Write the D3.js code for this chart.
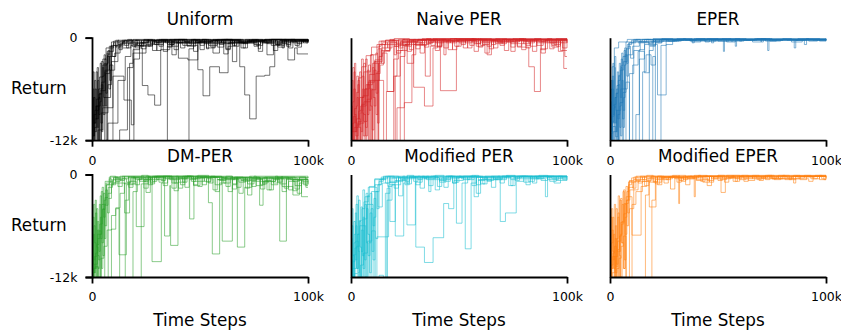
<!DOCTYPE html>
<html>
<head>
<meta charset="utf-8">
<script src="https://cdn.jsdelivr.net/npm/d3@7"></script>
<style>
  body { margin: 0; background: #fff; }
  text { font-family: "DejaVu Sans", sans-serif; fill: #000; }
</style>
</head>
<body>
<div id="chart"></div>
<script>
// runs: flat arrays [step(k), return(k), step(k), return(k), ...], held until next step
const uniformRuns = [
  [0,-14, 1.5,-9.5, 3,-6, 5,-3.2, 7,-1.6, 10,-0.9, 14,-0.5, 20,-1.2, 23.3,-5.6, 25.9,-6.7, 29,-7.9, 31.8,-1.4, 36,-0.6, 45,-0.3, 58,-1.1, 61,-0.4, 75,-0.8, 78,-0.3, 88,-0.6, 92,-0.3, 100,-0.3],
  [0,-14, 2.8,-10.8, 5,-8.2, 9.7,-4.5, 14.8,-7.3, 18.2,-10.2, 19.4,-2.5, 22,-1.0, 27,-0.4, 38,-1.4, 40,-0.3, 52,-0.7, 64,-0.2, 70,-1.2, 72,-0.4, 86,-0.9, 89,-0.2, 100,-0.4],
  [0,-14, 34.9,-1.0, 37,-0.4, 47,-1.6, 49,-0.5, 60,-0.3, 66,-1.0, 68,-0.4, 80,-0.2, 91,-1.2, 93,-0.4, 100,-0.5],
  [0,-14, 44.9,-1.3, 47,-0.6, 55,-0.3, 62,-1.4, 64,-0.5, 74,-0.3, 84,-1.5, 86,-0.4, 100,-0.3],
  [0,-14, 4.3,-8.8, 7.4,-5.5, 9,-2.8, 12,-1.2, 17,-0.6, 26,-0.3, 33,-1.6, 35,-0.5, 42,-0.9, 49,-3.75, 51.4,-6.8, 54.5,-3.4, 59,-4.1, 63,-1.0, 66,-0.4, 78,-0.6, 88,-0.3, 100,-0.6],
  [0,-14, 5.9,-7.0, 8.6,-3.8, 10.5,-1.8, 13,-0.7, 24,-0.4, 30,-1.5, 32,-0.4, 40,-2.4, 44.4,-2.6, 49,-0.5, 57,-0.3, 68.4,-3.4, 70.7,-6.7, 73,-9.5, 76,-4.5, 80,-4.4, 82.3,-3.4, 84.6,-0.8, 88,-0.4, 100,-0.4],
  [0,-14, 7.4,-10, 12,-5, 15.4,-2.2, 18,-0.9, 28,-0.5, 36,-0.2, 44,-1.0, 48,-0.4, 56,-1.8, 59,-0.6, 72,-0.4, 81,-2.0, 84,-0.7, 90.7,-2.6, 93.8,-1.2, 95,-1.9, 100,-1.9],
  [0,-14, 12.8,-10.8, 16.4,-3.5, 19,-1.4, 22,-0.6, 31,-0.3, 37,-2.0, 39,-0.6, 50,-0.4, 56,-0.2, 65,-2.8, 67,-0.6, 77,-1.6, 79,-0.5, 95,-1.1, 97,-0.4, 100,-0.2],
  [0,-14, 17.4,-3.0, 19,-1.8, 25,-0.8, 33,-0.3, 43,-0.5, 53,-1.2, 57,-0.4, 61,-1.9, 63,-0.6, 75,-0.3, 83,-0.9, 87,-0.3, 100,-0.2],
  [0,-11.5, 1,-9, 2,-7.2, 3.5,-4.6, 5,-2.5, 6.5,-1.2, 9,-0.5, 15,-0.3, 21,-0.9, 23,-0.3, 34,-0.6, 46,-0.2, 54,-0.9, 58,-0.2, 69,-0.6, 76,-0.2, 90,-0.8, 92,-0.2, 100,-0.3],
  [0,-12.5, 1.2,-10.5, 2.2,-8.5, 3.2,-6.6, 4.5,-5.2, 6,-3.8, 8,-2.2, 11,-1.0, 14.4,-0.4, 19,-0.2, 29,-0.8, 31,-0.2, 42,-0.4, 51,-0.2, 64,-0.6, 71,-0.2, 79,-0.6, 83,-0.2, 98,-0.6, 100,-0.3],
  [0,-10, 1.8,-8, 3.8,-6.2, 6.2,-4.2, 8.2,-3.2, 9.7,-14, 18.2,-12.5, 19.4,-1.0, 24,-0.3, 35,-0.8, 38,-0.2, 48,-0.6, 60,-0.2, 73,-0.5, 85,-0.2, 94,-0.4, 100,-0.2],
  [0,-12, 0.5,-4, 1,-10, 1.5,-6, 2,-13, 2.6,-5, 3.2,-9, 3.8,-3, 4.4,-11, 5,-4.5, 5.6,-2, 6.2,-8, 6.8,-3, 7.5,-1.5, 8.2,-5, 9,-1.2, 10,-0.6, 11,-1.1, 13,-0.4, 15,-0.9, 17,-0.3, 19,-0.8, 21,-0.5, 23,-1.3, 25,-0.4, 27,-0.7, 29,-0.3, 31,-1.0, 33,-0.5, 36,-0.8, 38,-0.3, 41,-1.2, 43,-0.4, 45,-0.7, 48,-0.3, 50,-0.9, 52,-0.4, 55,-1.1, 57,-0.3, 60,-0.6, 62,-0.2, 65,-0.9, 67,-0.4, 70,-0.7, 72,-0.3, 75,-1.0, 77,-0.4, 80,-0.6, 82,-0.2, 85,-0.8, 87,-0.3, 90,-1.0, 92,-0.4, 95,-0.7, 97,-0.3, 100,-0.5],
  [0,-9, 0.4,-13, 0.9,-7, 1.4,-11, 2.1,-8, 2.8,-12, 3.5,-6.5, 4.1,-10, 4.8,-3.5, 5.4,-7, 6,-2.5, 6.6,-12, 7.2,-2, 8,-1.0, 10,-0.4, 12,-0.8, 14,-0.3, 16,-1.2, 18,-0.5, 20,-0.3, 22,-0.9, 24,-0.2, 26,-1.0, 28,-0.4, 30,-0.6, 32,-0.2, 35,-1.1, 37,-0.3, 39,-0.6, 42,-0.2, 44,-0.9, 46,-0.3, 49,-0.6, 51,-0.2, 53,-1.3, 54,-0.5, 56,-0.3, 59,-0.8, 61,-0.2, 63,-0.7, 66,-0.3, 69,-1.2, 71,-0.4, 74,-0.2, 76,-0.9, 79,-0.3, 81,-0.7, 84,-0.3, 86,-1.1, 89,-0.4, 91,-0.2, 94,-0.9, 96,-0.3, 99,-0.6, 100,-0.6],
  [0,-7, 0.7,-11.5, 1.2,-5, 1.8,-9.5, 2.4,-3.5, 3,-12.5, 3.6,-7.5, 4.3,-2.8, 5.2,-9, 6,-4, 7,-1.8, 7.8,-6, 8.6,-1.0, 9.5,-2.2, 11,-0.3, 12.5,-1.4, 14,-0.6, 16.5,-0.2, 18.5,-1.0, 20.5,-0.3, 23,-0.6, 26,-0.2, 28,-1.5, 30,-0.5, 34,-0.3, 37,-1.0, 40,-0.2, 43,-0.6, 47,-0.2, 50,-1.4, 52,-0.3, 58,-0.5, 62,-1.3, 64,-0.3, 68,-0.6, 73,-0.2, 77,-1.3, 78,-0.4, 83,-0.2, 88,-1.2, 89,-0.3, 93,-0.6, 98,-0.2, 100,-0.3],
  [0,-10.5, 0.3,-6, 0.8,-12.5, 1.3,-8.5, 1.9,-4, 2.5,-10.5, 3.1,-7, 3.7,-12, 4.3,-5.5, 5,-8, 5.7,-3, 6.4,-6.5, 7.1,-2.2, 8,-3.8, 9,-0.9, 12,-0.3, 30,-0.2, 55,-0.3, 80,-0.2, 100,-0.2]
];

const naivePerRuns = [
  [0,-14, 1,-11, 2.5,-9.5, 4,-7, 6,-4, 9,-2, 12,-0.8, 16,-0.3, 22,-1.2, 24,-0.2, 33,-0.9, 35,-0.2, 44,-0.6, 46,-0.1, 57,-1.6, 59,-0.3, 68,-0.5, 75,-0.1, 88,-1.8, 90,-0.3, 100,-0.2],
  [0,-14, 2,-12.5, 4.5,-8, 7,-5.5, 10,-3.0, 12.8,-14, 16.4,-6.3, 19.8,-4.5, 21.3,-1.5, 24,-0.5, 31,-0.2, 40,-1.1, 42,-0.3, 52,-0.2, 63,-2.0, 65,-0.4, 78,-0.2, 92,-1.3, 94,-0.3, 100,-0.4],
  [0,-14, 3,-10, 6,-7.5, 9,-5, 15.1,-14, 21.3,-8.2, 24.7,-7.6, 28.2,-2.0, 30,-0.6, 38,-0.3, 47,-1.4, 49,-0.3, 61,-0.8, 64,-0.2, 71,-1.5, 73,-0.3, 86,-0.6, 100,-0.3],
  [0,-14, 1.5,-10.5, 3.5,-8.6, 5.5,-6.8, 8,-5.2, 11,-2.6, 14,-1.5, 18,-0.6, 29,-5.8, 34,-8.0, 37.96,-1.2, 40,-0.3, 50,-0.6, 53,-0.2, 60,-0.9, 62,-0.2, 74,-0.7, 80,-0.2, 95,-1.0, 97,-0.2, 100,-0.3],
  [0,-14, 19.8,-2.5, 22,-0.9, 26,-3.0, 29,-0.8, 36,-0.3, 41.4,-6.2, 48.8,-1.0, 51,-0.3, 58,-0.2, 66,-1.2, 68,-0.3, 79,-1.4, 81,-0.4, 90,-0.2, 100,-0.2],
  [0,-14, 20.5,-4.5, 22.8,-2.2, 25,-0.8, 34.4,-4.5, 36.7,-1.0, 42,-0.4, 55,-0.2, 69,-0.5, 77,-1.1, 82.3,-3.4, 84.9,-6.3, 87.7,-1.3, 91,-0.5, 98.5,-3.6, 100,-3.6],
  [0,-14, 22.8,-1.5, 26,-0.4, 32,-1.8, 34,-0.4, 45,-0.2, 54,-1.2, 56,-0.3, 67,-0.7, 70,-0.2, 83,-1.0, 86,-0.2, 96,-1.6, 98,-0.4, 100,-0.4],
  [0,-14, 24.7,-1.0, 28,-0.3, 39,-1.5, 41,-0.2, 51,-0.8, 53,-0.2, 62,-1.8, 64,-0.4, 73,-0.2, 84,-1.6, 86,-0.3, 99,-2.2, 100,-2.2],
  [0,-12, 0.8,-10, 1.6,-8.3, 2.6,-6.4, 3.6,-4.7, 5,-3.4, 7,-2.1, 9.5,-1.1, 13,-0.4, 20,-0.1, 27,-1.4, 29,-0.2, 37,-0.5, 48,-0.1, 58,-0.7, 60,-0.1, 72,-0.4, 85,-0.1, 93,-0.9, 95,-0.1, 100,-0.1],
  [0,-11, 1.2,-9.2, 2.2,-11.5, 3.3,-9.8, 5,-7.8, 6.5,-6, 8.5,-4.3, 11,-2.8, 14.5,-1.8, 16.7,-6.3, 19.8,-1.0, 23,-0.4, 30,-0.9, 33,-0.2, 43,-1.2, 45,-0.3, 56,-0.5, 70,-0.2, 81,-0.9, 83,-0.2, 100,-0.2],
  [0,-13, 1.4,-12, 2.8,-10.2, 4.2,-8.8, 5.8,-9.8, 7.5,-7.2, 9.5,-6.1, 11.5,-4.2, 13.5,-3.2, 15,-1.6, 18,-0.8, 26,-0.2, 36,-0.6, 38,-0.1, 49,-0.4, 59,-0.1, 65,-0.8, 67,-0.1, 80,-0.4, 91,-0.1, 100,-0.1],
  [0,-14, 12.8,-3.0, 14,-1.2, 17,-0.5, 21,-1.8, 23,-0.5, 31,-0.3, 43,-2.0, 44,-0.4, 53,-0.3, 58,-1.0, 61,-0.3, 74,-1.6, 76,-0.3, 88,-0.4, 97,-1.5, 100,-1.5],
  [0,-13, 0.5,-5, 1,-12, 1.6,-3, 2.2,-10, 2.8,-7, 3.4,-13, 4,-4, 4.7,-11, 5.4,-6, 6.1,-12.5, 6.8,-2.5, 7.5,-9, 8.3,-5, 9.1,-13, 9.9,-3.5, 10.7,-8, 11.5,-1.8, 12.3,-10, 13,-1.0, 14,-0.4, 16,-1.5, 18,-0.3, 20,-1.0, 22,-0.2, 25,-0.8, 27,-0.2, 30,-1.3, 32,-0.3, 35,-0.7, 37,-0.2, 40,-1.0, 42,-0.2, 46,-0.6, 49,-0.2, 52,-1.2, 54,-0.3, 57,-0.7, 60,-0.2, 63,-1.0, 65,-0.3, 68,-0.6, 71,-0.2, 74,-1.1, 76,-0.3, 80,-0.7, 83,-0.2, 86,-0.9, 89,-0.3, 92,-0.6, 95,-0.2, 98,-1.2, 100,-0.4],
  [0,-8, 0.6,-12.5, 1.3,-6, 2,-11, 2.7,-4.5, 3.5,-9.5, 4.3,-12, 5.1,-7, 5.9,-3, 6.7,-10.5, 7.6,-5.5, 8.5,-12, 9.4,-2, 10.3,-7, 11.2,-13, 12.1,-4, 13,-2.2, 14.5,-0.6, 17,-1.2, 19,-0.3, 21,-0.7, 24,-0.2, 26,-1.6, 28,-0.4, 31,-0.2, 34,-1.1, 36,-0.3, 39,-0.6, 43,-0.2, 45,-1.4, 47,-0.4, 50,-0.2, 55,-0.9, 57,-0.2, 61,-0.5, 64,-1.3, 66,-0.3, 70,-0.7, 72,-0.2, 77,-1.0, 79,-0.3, 82,-0.6, 85,-0.2, 88,-1.4, 90,-0.3, 94,-0.8, 97,-0.2, 100,-0.6],
  [0,-11, 0.8,-3.5, 1.5,-9, 2.4,-13, 3.2,-5, 4,-8.5, 4.9,-2.5, 5.7,-11.5, 6.5,-6, 7.3,-13, 8.1,-3.2, 9,-8, 9.8,-10.8, 10.6,-3.8, 11.6,-6.5, 12.5,-1.3, 14,-3.0, 15.5,-0.8, 18,-0.2, 20,-2.0, 21,-0.4, 24,-0.9, 27,-0.3, 29,-0.6, 33,-0.1, 37,-0.9, 39,-0.2, 44,-0.4, 48,-1.0, 50,-0.2, 53,-0.6, 56,-0.1, 59,-1.1, 61,-0.3, 66,-0.2, 69,-0.9, 71,-0.2, 75,-0.5, 78,-0.1, 81,-1.2, 83,-0.3, 87,-0.5, 91,-0.2, 93,-1.1, 96,-0.3, 100,-0.2],
  [0,-10, 0.4,-13, 0.9,-7.5, 1.4,-4, 1.9,-12, 2.5,-8, 3.1,-5.5, 3.8,-10.5, 4.5,-13, 5.2,-4.5, 6,-9, 6.8,-11.5, 7.6,-3.8, 8.4,-8.5, 9.2,-6, 10,-12, 10.8,-2.8, 11.6,-9, 12.4,-5, 13.2,-0.8, 16,-0.3, 35,-0.1, 60,-0.2, 100,-0.1]
];

const eperRuns = [
  [0,-14, 1,-3.4, 2,-1.2, 4,-0.5, 8,-0.2, 20,-0.4, 30,-0.2, 52.5,-1.6, 53,-0.3, 65,-0.2, 85.3,-1.2, 86,-0.3, 100,-0.2],
  [0,-14, 1.5,-11, 3,-8.5, 5,-6, 7.4,-14, 9,-4.2, 11,-1.5, 14,-0.5, 18,-0.9, 21,-0.2, 37,-0.4, 55,-0.2, 73,-1.5, 73.6,-0.3, 100,-0.2],
  [0,-14, 10.5,-3.2, 13,-1.6, 15.9,-4.1, 18.2,-1.0, 21,-0.3, 44,-0.5, 46,-0.2, 60,-0.4, 62,-0.2, 100,-0.3],
  [0,-14, 12,-9, 13.6,-2.5, 16,-0.8, 22,-6.7, 26,-0.8, 29,-0.3, 40,-0.2, 58,-1.0, 58.6,-0.3, 80,-0.2, 100,-0.2],
  [0,-14, 15.1,-4.0, 16.7,-2.0, 19,-3.2, 21,-0.6, 24,-0.2, 47,-0.6, 48,-0.2, 100,-0.2],
  [0,-14, 18.2,-1.5, 20,-0.4, 33,-0.2, 70,-0.5, 71,-0.2, 100,-0.3],
  [0,-14, 19.8,-2.2, 21,-14, 23.6,-0.9, 26,-0.3, 100,-0.3],
  [0,-13, 0.6,-11.2, 1.2,-9.8, 1.8,-8.2, 2.4,-7, 3.2,-5.6, 4,-4.4, 5,-3.3, 6,-2.2, 7.5,-1.3, 9,-0.6, 12,-0.2, 30,-0.3, 90,-0.8, 91,-0.2, 100,-0.2],
  [0,-10.8, 0.9,-9.2, 1.9,-7.8, 2.8,-6.5, 3.8,-5, 4.8,-3.8, 6.2,-2.8, 8,-2, 10.5,-1.0, 13.6,-0.4, 25,-0.2, 38,-0.6, 39,-0.1, 100,-0.1],
  [0,-12.2, 1.3,-10.4, 2.6,-11.6, 3.6,-9, 4.6,-7.6, 6,-6.4, 7.4,-5.2, 9,-14, 13.6,-1.4, 16,-0.6, 20,-0.2, 100,-0.2],
  [0,-12, 0.4,-5, 0.8,-10, 1.3,-3, 1.8,-12.5, 2.3,-7, 2.8,-11, 3.4,-4, 4,-13, 4.6,-8, 5.2,-2.5, 5.8,-9.5, 6.5,-1.5, 7.2,-6, 8,-0.8, 10,-0.3, 13,-0.6, 16,-0.2, 19,-0.5, 23,-0.2, 27,-0.4, 31,-0.1, 35,-0.3, 40,-0.1, 44,-0.4, 49,-0.2, 54,-0.5, 58,-0.1, 63,-0.3, 68,-0.1, 72,-0.4, 77,-0.2, 82,-0.3, 87,-0.1, 92,-0.4, 96,-0.2, 100,-0.2],
  [0,-9, 0.5,-13, 1,-6, 1.6,-10, 2.1,-2.2, 2.7,-8.5, 3.3,-12, 3.9,-5.5, 4.5,-10.5, 5.1,-3.5, 5.7,-13, 6.3,-7, 7,-2, 7.8,-4.5, 8.6,-0.6, 11,-0.2, 14,-0.5, 17,-0.2, 21,-0.6, 24,-0.1, 29,-0.3, 34,-0.1, 38,-0.5, 42,-0.2, 47,-0.3, 52,-0.1, 56,-0.4, 61,-0.2, 66,-0.5, 70,-0.1, 75,-0.3, 80,-0.1, 84,-0.5, 89,-0.2, 94,-0.3, 100,-0.1],
  [0,-6, 0.6,-11, 1.1,-4.5, 1.7,-8, 2.3,-13, 3,-6, 3.6,-9.5, 4.3,-3, 4.9,-11.5, 5.5,-5, 6.1,-8.5, 6.8,-1.2, 7.6,-3, 8.4,-1.0, 9.5,-2.4, 11,-0.4, 15,-0.2, 18,-0.7, 20,-0.2, 26,-0.4, 32,-0.2, 37,-0.3, 45,-0.1, 50,-0.4, 57,-0.2, 62,-0.3, 67,-0.1, 74,-0.4, 79,-0.2, 86,-0.3, 91,-0.1, 97,-0.4, 100,-0.2],
  [0,-11, 0.3,-7.5, 0.7,-13, 1.1,-5, 1.5,-9, 2,-3.5, 2.5,-10, 3,-6.5, 3.6,-12, 4.2,-4.5, 4.8,-7, 5.4,-1.8, 6,-10.5, 6.7,-3.2, 7.4,-0.5, 20,-0.1, 60,-0.2, 100,-0.1]
];

const dmPerRuns = [
  [0,-14, 1,-10.5, 2.5,-7, 4.5,-3.5, 6.6,-1.2, 10,-0.4, 12.5,-9.4, 15.9,-1.2, 19,-0.3, 27,-0.9, 29,-0.2, 40,-1.6, 42,-0.4, 55,-0.3, 60.3,-7.8, 64.97,-1.2, 67,-0.4, 78,-1.2, 80,-0.3, 91,-1.8, 93,-0.6, 100,-1.0],
  [0,-14, 5.9,-14, 7.5,-2.8, 9,-1.0, 15.1,-4.5, 17.4,-0.8, 20.5,-6.1, 24.1,-0.6, 27.8,-10.2, 32.1,-1.0, 35,-0.3, 45.2,-5.2, 47.2,-0.8, 52,-0.3, 67.3,-8.5, 70.7,-1.5, 74,-0.5, 86.9,-7.8, 90,-1.4, 93,-2.4, 96,-1.0, 100,-1.2],
  [0,-14, 22.8,-1.1, 26,-0.3, 33.6,-7.2, 36,-1.3, 36.4,-8.3, 39.8,-0.9, 43,-0.3, 53.9,-3.3, 55.7,-9.3, 59.1,-1.0, 62,-0.3, 77.6,-3.6, 79.2,-0.8, 85,-0.4, 95,-2.2, 97,-0.8, 100,-0.9],
  [0,-14, 18.98,-2.0, 21,-0.6, 31,-0.3, 38,-1.9, 40,-0.5, 50,-0.3, 62,-1.4, 64,-0.4, 72,-2.4, 74,-0.8, 82,-0.4, 88,-2.0, 90,-0.6, 97,-2.6, 100,-2.6],
  [0,-13, 0.8,-11, 1.6,-9.2, 2.6,-7.5, 3.6,-5.8, 4.8,-4.1, 6,-2.7, 7.5,-1.5, 9.5,-0.6, 14,-0.2, 24,-0.8, 26,-0.2, 34,-0.5, 44,-0.2, 49,-1.4, 51,-0.3, 58,-0.6, 66,-0.3, 71,-1.6, 73,-0.4, 84,-1.0, 86,-0.3, 99,-1.3, 100,-1.3],
  [0,-11.5, 1.2,-9.6, 2.2,-8.2, 3.2,-6.6, 4.2,-14, 5.9,-3.6, 7.4,-2.2, 9,-1.2, 11,-0.5, 17,-0.2, 30,-0.6, 33,-0.2, 46,-0.8, 48,-0.2, 57,-2.0, 59,-0.5, 69,-0.7, 76,-0.3, 81,-1.8, 83,-0.5, 92,-0.6, 100,-0.5],
  [0,-12.5, 1.4,-10.8, 3,-12, 4.2,-9.8, 5.5,-8.4, 7,-6.5, 9,-4.8, 11,-3.9, 13,-2.2, 15,-1.0, 18,-0.4, 28,-0.2, 37,-1.0, 39,-0.2, 53,-0.9, 55,-0.2, 65,-1.7, 67,-0.4, 75,-0.2, 86,-0.9, 88,-0.2, 100,-0.4],
  [0,-14, 9,-6.4, 11,-4.0, 12.8,-14, 15.4,-3.0, 17,-1.1, 20,-0.4, 25,-2.1, 27,-0.4, 42,-0.2, 47,-1.2, 49,-0.3, 61,-0.5, 68,-2.2, 70,-0.6, 79,-1.1, 81,-0.3, 94,-1.7, 96,-0.4, 100,-0.4],
  [0,-12.5, 0.5,-5, 1,-10, 1.5,-3, 2,-12, 2.6,-6.5, 3.2,-9, 3.8,-2.5, 4.4,-11, 5,-4, 5.7,-7.5, 6.4,-1.8, 7.2,-4.5, 8,-0.8, 10,-0.3, 12,-1.4, 14,-0.5, 16,-0.9, 18,-0.3, 20,-1.2, 22,-0.5, 24,-1.6, 26,-0.4, 28,-0.8, 30,-0.2, 33,-1.3, 35,-0.5, 38,-1.0, 40,-0.3, 43,-1.5, 45,-0.6, 48,-0.3, 51,-1.2, 53,-0.5, 56,-1.8, 58,-0.6, 61,-1.0, 64,-0.4, 67,-1.5, 69,-0.6, 72,-1.1, 75,-0.4, 78,-1.7, 80,-0.7, 83,-1.2, 86,-0.5, 89,-1.6, 91,-0.8, 94,-1.3, 97,-0.6, 100,-1.1],
  [0,-8.5, 0.4,-12, 0.9,-6, 1.5,-11, 2.1,-4, 2.7,-9.5, 3.3,-12.5, 3.9,-5, 4.6,-8, 5.3,-2.2, 6,-6, 6.8,-1.2, 8,-0.5, 9,-1.0, 11,-0.3, 13,-0.7, 15,-0.2, 17,-1.5, 19,-0.4, 22,-0.8, 25,-0.2, 27,-1.1, 29,-0.3, 32,-0.7, 34,-0.2, 37,-1.6, 39,-0.4, 42,-0.9, 44,-0.2, 47,-1.3, 50,-0.4, 52,-0.8, 55,-0.3, 57,-1.2, 60,-0.4, 63,-2.0, 65,-0.6, 68,-0.9, 71,-0.3, 74,-1.4, 76,-0.5, 79,-0.9, 82,-1.8, 84,-0.6, 87,-1.1, 90,-0.4, 93,-1.9, 95,-0.7, 98,-1.2, 100,-1.2],
  [0,-10.5, 0.7,-3.5, 1.3,-8, 1.9,-13, 2.5,-5.5, 3.1,-10, 3.7,-7, 4.3,-2, 5,-9.5, 5.7,-3, 6.5,-1.0, 8.5,-0.2, 11,-0.8, 13,-0.2, 15,-1.1, 17,-0.3, 20,-0.6, 23,-0.1, 26,-1.2, 28,-0.3, 31,-0.9, 33,-0.2, 36,-0.6, 41,-1.2, 43,-0.2, 46,-0.5, 49,-0.1, 54,-1.0, 56,-0.3, 59,-0.7, 62,-0.2, 65,-1.1, 67,-0.3, 70,-0.8, 73,-0.2, 76,-1.3, 79,-0.4, 81,-0.8, 85,-0.2, 88,-1.4, 90,-0.5, 93,-0.8, 96,-0.3, 99,-1.5, 100,-1.5],
  [0,-9.5, 0.3,-13, 0.7,-7, 1.1,-11.5, 1.6,-4.5, 2.2,-8.5, 2.8,-11, 3.4,-3.5, 4,-7.5, 4.7,-1.5, 5.4,-5, 6.1,-0.8, 8,-0.3, 30,-0.2, 60,-0.4, 100,-0.3]
];

const modPerRuns = [
  [0,-14, 1,-11, 2.5,-8.4, 4,-6, 6,-3.2, 8,-1.5, 11,-0.5, 17,-0.2, 25,-1.2, 27,-0.3, 38,-0.2, 48.8,-5.7, 51.4,-1.0, 54,-0.3, 63,-0.8, 65,-0.2, 76,-0.5, 90,-2.6, 91,-0.3, 100,-0.2],
  [0,-14, 12,-7.3, 17.4,-1.2, 20.5,-7.2, 24.4,-1.0, 27,-0.3, 30,-8.5, 34,-10.3, 38,-7.4, 42.9,-3.4, 45.2,-4.0, 47.6,-0.7, 52,-0.2, 60,-1.1, 62,-0.3, 74,-1.3, 76,-0.3, 88,-0.2, 100,-0.3],
  [0,-14, 16.7,-1.6, 18,-5.5, 20.5,-0.7, 25.9,-5.9, 29.8,-0.9, 33,-0.3, 43,-1.5, 45,-0.3, 52.9,-8.7, 55.6,-1.0, 58,-0.3, 69.1,-5.5, 71.5,-4.5, 76.5,-0.8, 80,-0.2, 100,-0.2],
  [0,-12, 0.8,-10.2, 1.8,-8.6, 2.8,-7, 3.8,-5.4, 5,-4, 6.5,-2.6, 8.5,-1.4, 11,-0.6, 15,-0.2, 22,-2.5, 24,-0.5, 35,-0.2, 47,-1.0, 49,-0.2, 58,-2.2, 60,-0.6, 68,-0.2, 81,-1.2, 83,-0.2, 95,-0.7, 100,-0.5],
  [0,-11, 1.2,-9.4, 2.2,-7.8, 3.4,-14, 5.6,-5.2, 7.4,-3.5, 9.5,-2.0, 12.5,-3.8, 14.5,-1.0, 18,-0.4, 26,-0.2, 32,-1.6, 34,-0.4, 41,-0.9, 44,-0.2, 56,-1.3, 58,-0.3, 66,-0.6, 72,-0.2, 84,-1.0, 86,-0.2, 100,-0.2],
  [0,-13.2, 1.6,-11.6, 3.2,-12.8, 4.4,-10.6, 5.8,-9.2, 7.6,-7.8, 9.6,-6.6, 11.2,-14, 15.9,-2.2, 18,-0.9, 22,-0.3, 36,-2.0, 37,-0.6, 46,-0.3, 61,-0.5, 70,-0.2, 86,-0.4, 100,-0.2],
  [0,-14, 13,-11.8, 15,-14, 16.7,-3.0, 19,-1.2, 23,-0.4, 30,-0.2, 39,-1.8, 41,-0.5, 50,-0.3, 57,-2.6, 59,-0.6, 65,-1.5, 67,-0.4, 78,-0.3, 93,-0.5, 100,-0.3],
  [0,-12, 0.5,-4, 1,-9.5, 1.6,-13, 2.2,-6, 2.8,-11, 3.5,-3, 4.2,-8.5, 4.9,-12, 5.6,-5, 6.3,-10, 7,-2.2, 7.8,-7, 8.6,-11.5, 9.4,-3.5, 10.2,-6, 11,-1.5, 12,-4.0, 13,-0.8, 15,-0.3, 17,-1.4, 19,-0.4, 21,-0.8, 24,-0.2, 26,-1.1, 28,-0.3, 31,-0.6, 33,-0.2, 36,-1.3, 38,-0.4, 41,-0.7, 44,-0.2, 47,-1.0, 49,-0.3, 52,-0.6, 55,-0.2, 58,-1.2, 60,-0.3, 63,-0.7, 66,-0.2, 69,-1.0, 71,-0.3, 74,-0.6, 77,-0.2, 80,-0.9, 83,-0.3, 86,-0.5, 89,-0.2, 92,-0.8, 95,-0.2, 98,-0.6, 100,-0.4],
  [0,-7.5, 0.6,-12.5, 1.3,-5.5, 2,-10, 2.7,-2.5, 3.4,-9, 4.1,-13, 4.8,-6.5, 5.6,-11, 6.4,-3.5, 7.2,-8, 8,-12.5, 8.8,-4.5, 9.7,-9, 10.6,-2.8, 11.5,-7.5, 12.4,-1.2, 14,-0.5, 16,-1.0, 18,-0.2, 20,-1.6, 22,-0.4, 25,-0.8, 27,-0.2, 30,-1.2, 32,-0.3, 35,-0.6, 37,-0.2, 40,-1.4, 42,-0.4, 45,-0.2, 48,-0.9, 50,-0.3, 54,-0.6, 57,-0.2, 61,-1.1, 63,-0.3, 67,-0.6, 70,-0.2, 73,-1.3, 75,-0.4, 79,-0.2, 82,-0.8, 85,-0.2, 88,-0.7, 91,-0.2, 94,-1.0, 97,-0.3, 100,-0.3],
  [0,-10, 0.8,-13, 1.5,-7, 2.3,-3.5, 3.1,-11.5, 3.9,-5.5, 4.7,-9, 5.5,-1.8, 6.3,-12, 7.1,-4, 7.9,-9.5, 8.8,-2.2, 9.7,-13, 10.6,-5, 11.5,-2.0, 13,-0.6, 16,-0.2, 18,-0.9, 21,-0.3, 23,-0.6, 26,-0.1, 29,-0.8, 31,-0.2, 34,-0.5, 39,-0.1, 43,-0.8, 46,-0.2, 51,-0.5, 56,-0.1, 59,-0.7, 62,-0.2, 66,-0.4, 72,-0.1, 76,-0.7, 78,-0.2, 83,-0.5, 87,-0.1, 91,-0.6, 96,-0.2, 100,-0.2],
  [0,-10.5, 0.4,-6, 0.9,-12.5, 1.4,-8, 2,-4.5, 2.6,-11, 3.2,-7, 3.9,-13, 4.6,-3.8, 5.3,-9.5, 6,-6, 6.8,-12, 7.6,-2.5, 8.4,-8, 9.3,-4, 10.2,-10, 11.1,-1.2, 14,-0.3, 50,-0.2, 100,-0.2]
];

const modEperRuns = [
  [0,-14, 1,-11.5, 2.2,-9.6, 3.5,-7.8, 5,-5.6, 6.6,-3.4, 8.5,-1.5, 11,-0.6, 16,-0.2, 31.8,-3.4, 32.2,-0.5, 40,-0.2, 51.4,-2.1, 53.4,-0.4, 60,-0.2, 75,-0.5, 77,-0.2, 100,-0.2],
  [0,-14, 7.5,-2.6, 10.2,-7.1, 14.4,-1.4, 17,-0.5, 25,-0.3, 39,-2.6, 39.5,-0.6, 46,-0.2, 62,-0.8, 64,-0.2, 100,-0.3],
  [0,-14, 9,-4.0, 11,-1.8, 13,-0.8, 18.2,-3.8, 21.3,-0.9, 24,-0.3, 34,-0.6, 36,-0.2, 55,-0.4, 85,-1.0, 86,-0.2, 100,-0.2],
  [0,-14, 16.4,-2.4, 18,-0.9, 21,-0.3, 28,-1.7, 30,-0.4, 45,-1.3, 47,-0.3, 68,-0.6, 70,-0.2, 100,-0.3],
  [0,-14, 19.4,-3.0, 21,-0.6, 27,-0.3, 43,-0.9, 46,-0.2, 58,-0.8, 60,-0.2, 78,-0.5, 92,-0.8, 94,-0.2, 100,-0.4],
  [0,-12.4, 0.7,-10.6, 1.4,-9.2, 2.1,-8.4, 2.9,-10.8, 3.6,-8.8, 4.4,-7.2, 5.4,-5.8, 6.4,-4.6, 7.6,-3.0, 9.2,-1.8, 11,-0.8, 14,-0.3, 22,-1.2, 24,-0.3, 37,-0.2, 50,-0.7, 52,-0.2, 66,-0.5, 88,-0.2, 100,-0.2],
  [0,-11, 1.2,-9.6, 2.4,-12, 3.2,-11, 4.2,-9.8, 5.2,-8.4, 6.2,-7.2, 7.4,-14, 10.2,-3.5, 12,-2.0, 15,-0.8, 19,-0.3, 33,-0.8, 35,-0.2, 48,-0.5, 56,-0.2, 72,-0.6, 74,-0.2, 97,-0.6, 100,-0.4],
  [0,-12, 0.5,-5, 1,-11, 1.6,-7, 2.2,-13, 2.8,-4, 3.4,-9, 4,-12.5, 4.6,-3, 5.3,-8, 6,-2, 6.7,-10, 7.4,-1.4, 8.2,-4.5, 9,-0.7, 11,-0.3, 13,-1.0, 15,-0.3, 17,-0.7, 19,-0.2, 21,-1.1, 23,-0.3, 26,-0.6, 28,-0.2, 31,-0.9, 33,-0.3, 36,-0.5, 39,-0.1, 42,-0.8, 44,-0.2, 47,-0.5, 50,-0.1, 53,-0.9, 55,-0.3, 58,-0.5, 61,-0.1, 64,-0.7, 67,-0.2, 70,-0.4, 73,-0.1, 76,-0.6, 79,-0.2, 82,-0.4, 85,-0.1, 88,-0.6, 91,-0.2, 94,-0.5, 97,-0.1, 100,-0.4],
  [0,-9, 0.4,-13, 0.9,-6.5, 1.5,-10, 2,-3.5, 2.6,-11.5, 3.2,-7.5, 3.8,-2.5, 4.4,-9.5, 5,-12, 5.6,-5.5, 6.3,-1.8, 7,-7, 7.8,-3.0, 8.6,-1.2, 10,-0.4, 12,-0.7, 14,-0.2, 16,-1.3, 18,-0.4, 20,-0.8, 22,-0.2, 25,-1.0, 27,-0.3, 30,-0.5, 32,-0.1, 35,-1.2, 37,-0.3, 40,-0.7, 43,-0.2, 46,-0.9, 48,-0.3, 51,-0.6, 54,-0.1, 57,-0.8, 59,-0.2, 62,-0.5, 66,-0.1, 69,-0.7, 71,-0.2, 74,-0.4, 78,-0.1, 81,-0.6, 84,-0.2, 87,-0.4, 90,-0.1, 93,-0.5, 96,-0.2, 99,-0.6, 100,-0.6],
  [0,-11.5, 0.7,-4, 1.3,-9, 1.9,-12, 2.5,-6, 3.1,-10.5, 3.7,-4.5, 4.3,-13, 4.9,-7, 5.6,-3.5, 6.3,-11, 7,-5, 7.8,-2, 8.8,-0.8, 10.5,-1.6, 12,-0.3, 15,-0.6, 17,-0.1, 20,-0.9, 22,-0.2, 24,-0.5, 29,-0.1, 32,-0.7, 34,-0.2, 38,-0.4, 41,-0.1, 45,-0.7, 48,-0.2, 52,-0.4, 57,-0.1, 60,-0.6, 63,-0.2, 68,-0.4, 72,-0.1, 75,-0.5, 80,-0.1, 83,-0.6, 86,-0.2, 90,-0.3, 95,-0.1, 98,-0.5, 100,-0.3],
  [0,-10, 0.3,-13, 0.8,-8, 1.3,-5, 1.8,-11, 2.4,-7.5, 3,-12.5, 3.6,-5, 4.2,-9, 4.9,-2.8, 5.6,-8, 6.3,-11, 7,-3.5, 7.8,-6, 8.6,-0.9, 12,-0.2, 50,-0.1, 100,-0.2]
];

const titles = ["Uniform", "Naive PER", "EPER", "DM-PER", "Modified PER", "Modified EPER"];
const colors = ["#000000", "#d62728", "#1f77b4", "#2ca02c", "#17becf", "#ff7f0e"];
const allRuns = [uniformRuns, naivePerRuns, eperRuns, dmPerRuns, modPerRuns, modEperRuns];
const xTicks = [0, 100000];
const xTickLabels = ["0", "100k"];
const yTicks = [-12000, 0];
const yTickLabels = ["-12k", "0"];

const W = 841, H = 332;
const colX = [92, 351, 610];
const rowY = [37.7, 174.5];
const pw = 216, ph = 102.5;

const svg = d3.select("#chart").append("svg")
  .attr("width", W).attr("height", H);

const x = d3.scaleLinear().domain([0, 100000]).range([0, pw]);
const y = d3.scaleLinear().domain([-12000, 0]).range([ph, 0]);

const line = d3.line()
  .x(d => x(d[0]))
  .y(d => y(d[1]))
  .curve(d3.curveStepAfter);

function toPoints(flat) {
  const pts = [];
  for (let i = 0; i < flat.length; i += 2) pts.push([flat[i] * 1000, flat[i + 1] * 1000]);
  return pts;
}

allRuns.forEach((runs, i) => {
  const col = i % 3, row = Math.floor(i / 3);
  const g = svg.append("g").attr("transform", `translate(${colX[col]},${rowY[row]})`);

  g.append("clipPath").attr("id", "clip" + i)
    .append("rect").attr("x", 0).attr("y", -2).attr("width", pw + 1).attr("height", ph + 2);

  g.append("g").attr("clip-path", `url(#clip${i})`)
    .selectAll("path")
    .data(runs)
    .join("path")
    .attr("d", r => line(toPoints(r)))
    .attr("fill", "none")
    .attr("stroke", colors[i])
    .attr("stroke-width", 1)
    .attr("stroke-opacity", 0.55);

  // x axis
  g.append("g")
    .attr("transform", `translate(0,${ph})`)
    .call(d3.axisBottom(x).tickValues(xTicks).tickSize(6.5).tickSizeOuter(0).tickPadding(9)
      .tickFormat((d, k) => xTickLabels[k]))
    .call(a => a.selectAll("text").style("font-size", "12.5px"))
    .call(a => a.selectAll("path, line").attr("stroke", "#000").attr("stroke-width", 1.8));

  // y axis
  const ya = d3.axisLeft(y).tickSizeOuter(0);
  if (col === 0) ya.tickValues(yTicks).tickSize(6.5).tickPadding(8).tickFormat((d, k) => yTickLabels[k]);
  else ya.tickValues([]);
  g.append("g")
    .call(ya)
    .call(a => a.selectAll("text").style("font-size", "12.5px"))
    .call(a => a.selectAll("path, line").attr("stroke", "#000").attr("stroke-width", 1.8));

  g.append("text")
    .attr("x", pw / 2).attr("y", -12.5)
    .attr("text-anchor", "middle")
    .style("font-size", "16.8px")
    .text(titles[i]);

  if (col === 0) {
    g.append("text")
      .attr("x", 38.8 - colX[0]).attr("y", 56.8)
      .attr("text-anchor", "middle")
      .style("font-size", "16.8px")
      .text("Return");
  }
  if (row === 1) {
    g.append("text")
      .attr("x", pw / 2).attr("y", 151.5)
      .attr("text-anchor", "middle")
      .style("font-size", "16.8px")
      .text("Time Steps");
  }
});
</script>
</body>
</html>
